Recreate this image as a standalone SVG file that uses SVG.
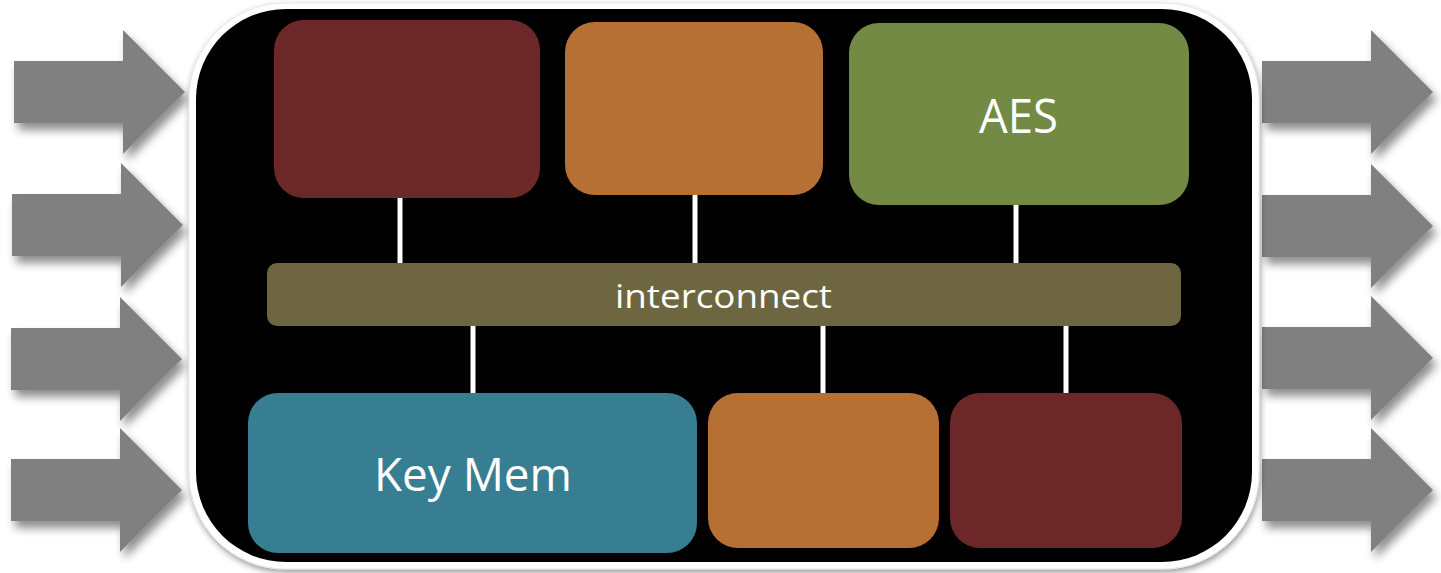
<svg xmlns="http://www.w3.org/2000/svg" xmlns:xlink="http://www.w3.org/1999/xlink" width="1441" height="573" viewBox="0 0 1441 573">
<style>
  .arrow { fill: #808080; }
  .node-text { font-family: "Open Sans", "Noto Sans", "Liberation Sans", sans-serif; fill: #ffffff; }
  .conn { stroke: #ffffff; stroke-width: 5; fill: none; }
  .red { fill: #6C2829; }
  .orange { fill: #B77034; }
  .green { fill: #728A43; }
  .olive { fill: #6E6640; }
  .teal { fill: #387E92; }
</style>
<defs>
  <path id="arr" d="M0,-31 H109 V-62 L171,0 L109,62 V31 H0 Z"/>
  <filter id="sh" x="-20%" y="-20%" width="150%" height="160%">
    <feGaussianBlur in="SourceAlpha" stdDeviation="5"/>
    <feOffset dx="4" dy="7" result="b"/>
    <feComponentTransfer><feFuncA type="linear" slope="0.45"/></feComponentTransfer>
    <feMerge><feMergeNode/><feMergeNode in="SourceGraphic"/></feMerge>
  </filter>
  <filter id="shb" x="-5%" y="-5%" width="110%" height="112%">
    <feGaussianBlur in="SourceAlpha" stdDeviation="3"/>
    <feOffset dx="1" dy="3" result="b"/>
    <feComponentTransfer><feFuncA type="linear" slope="0.4"/></feComponentTransfer>
    <feMerge><feMergeNode/><feMergeNode in="SourceGraphic"/></feMerge>
  </filter>
</defs>
<rect x="0" y="0" width="1441" height="573" fill="#ffffff"/>

<g id="input-arrows" filter="url(#sh)">
  <use xlink:href="#arr" href="#arr" class="arrow" transform="translate(14,92)"/>
  <use xlink:href="#arr" href="#arr" class="arrow" transform="translate(12,225)"/>
  <use xlink:href="#arr" href="#arr" class="arrow" transform="translate(11,359)"/>
  <use xlink:href="#arr" href="#arr" class="arrow" transform="translate(11,490)"/>
</g>
<g id="output-arrows" filter="url(#sh)">
  <use xlink:href="#arr" href="#arr" class="arrow" transform="translate(1262,92)"/>
  <use xlink:href="#arr" href="#arr" class="arrow" transform="translate(1262,226)"/>
  <use xlink:href="#arr" href="#arr" class="arrow" transform="translate(1262,358)"/>
  <use xlink:href="#arr" href="#arr" class="arrow" transform="translate(1262,490)"/>
</g>

<g id="chip" filter="url(#shb)">
  <rect x="189" y="3" width="1070" height="566" rx="96" fill="#ffffff" stroke="#e6e6e6" stroke-width="1"/>
  <rect x="196" y="9" width="1056" height="553" rx="90" fill="#000000"/>
</g>

<g id="connectors">
  <line class="conn" x1="400" y1="197" x2="400" y2="264"/>
  <line class="conn" x1="695" y1="195" x2="695" y2="264"/>
  <line class="conn" x1="1016" y1="200" x2="1016" y2="266"/>
  <line class="conn" x1="473" y1="326" x2="473" y2="394"/>
  <line class="conn" x1="823" y1="326" x2="823" y2="394"/>
  <line class="conn" x1="1066" y1="326" x2="1066" y2="394"/>
</g>

<g id="node-top-red"><rect class="red" x="274" y="20" width="266" height="178" rx="30"/></g>
<g id="node-top-orange"><rect class="orange" x="565" y="22" width="258" height="173" rx="30"/></g>
<g id="node-aes">
  <rect class="green" x="849" y="23" width="340" height="182" rx="30"/>
  <text class="node-text" x="979" y="133" font-size="47" textLength="79" lengthAdjust="spacingAndGlyphs">AES</text>
</g>
<g id="node-interconnect">
  <rect class="olive" x="267" y="263" width="914" height="63" rx="10"/>
  <text class="node-text" x="615" y="308" font-size="33" textLength="217" lengthAdjust="spacingAndGlyphs">interconnect</text>
</g>
<g id="node-keymem">
  <rect class="teal" x="248" y="393" width="449" height="160" rx="30"/>
  <text class="node-text" x="374" y="491" font-size="46" textLength="198" lengthAdjust="spacingAndGlyphs">Key Mem</text>
</g>
<g id="node-bottom-orange"><rect class="orange" x="708" y="393" width="231" height="155" rx="30"/></g>
<g id="node-bottom-red"><rect class="red" x="950" y="393" width="232" height="155" rx="30"/></g>
</svg>
